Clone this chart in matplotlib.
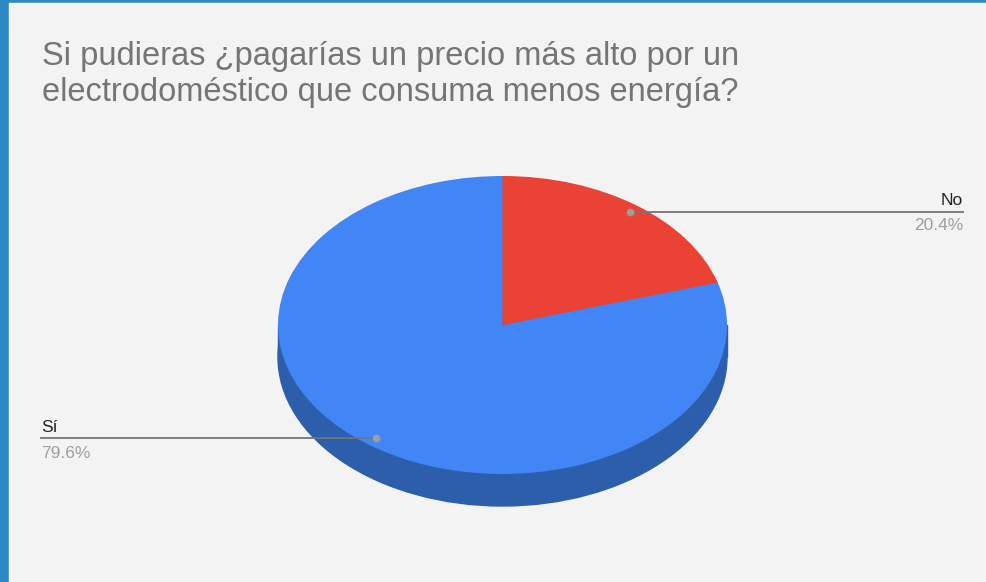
import matplotlib
matplotlib.use('Agg')
import matplotlib.pyplot as plt
from matplotlib.patches import Wedge, Rectangle, Ellipse
from matplotlib.transforms import Affine2D

# data
labels = ['No', 'Sí']
shares = [20.4, 79.6]
colors = ['#ea4335', '#4285f4']
side_colors = ['#b0322a', '#2d5eab']
title_lines = ['Si pudieras ¿pagarías un precio más alto por un',
               'electrodoméstico que consuma menos energía?']

plt.rcParams['font.family'] = ['Liberation Sans', 'DejaVu Sans']

W, H = 987, 582
fig = plt.figure(figsize=(W / 100, H / 100), dpi=100)
fig.patch.set_facecolor('#2f87c3')
ax = fig.add_axes([0, 0, 1, 1])
ax.set_xlim(0, W)
ax.set_ylim(H, 0)
ax.axis('off')

# card background with thin white rim
ax.add_patch(Rectangle((9, 3), W, H, color='white', zorder=0))
ax.add_patch(Rectangle((10, 4), W, H, color='#f3f3f3', zorder=0))

# pie geometry in pixels
cx, cy, rx, ry, depth = 502.5, 325, 224.5, 149, 32
top = Affine2D().scale(rx, -ry).translate(cx, cy) + ax.transData
bottom = Affine2D().scale(rx, -ry).translate(cx, cy + depth) + ax.transData

# side of the disc (front half only visible, all blue here)
ax.add_patch(Ellipse((0, 0), 2, 2, color=side_colors[1], transform=bottom, zorder=1))
ax.add_patch(Rectangle((cx - rx, cy), 2 * rx, depth, color=side_colors[1], zorder=1))

# top face: start at 12 o'clock, go clockwise
# later slices drawn first and slightly widened so no seam shows
start = 90.0
wedges = []
for lab, s, c in zip(labels, shares, colors):
    sweep = 360 * s / 100
    wedges.append((start - sweep, start, c))
    start -= sweep
for i, (t1, t2, c) in enumerate(reversed(wedges)):
    pad = 1.0 if i == 0 else 0.0
    w = Wedge((0, 0), 1, t1 - pad, t2 + pad, color=c, lw=0, zorder=2 + i)
    w.set_transform(top)
    ax.add_patch(w)

# leader lines and labels
ax.plot([630, 963], [211.5, 211.5], color='#757575', lw=1.3, zorder=5)
ax.plot([630], [211.5], 'o', color='#9e9e9e', ms=4.5, zorder=6)
ax.text(963, 205, labels[0], ha='right', va='baseline', fontsize=12.5, color='#222222')
ax.text(963, 230, f'{shares[0]}%', ha='right', va='baseline', fontsize=12.5, color='#9e9e9e')

ax.plot([41, 376], [438, 438], color='#757575', lw=1.3, zorder=5)
ax.plot([376], [438], 'o', color='#9e9e9e', ms=4.5, zorder=6)
ax.text(41, 432, labels[1], ha='left', va='baseline', fontsize=12.5, color='#222222')
ax.text(41, 458, f'{shares[1]}%', ha='left', va='baseline', fontsize=12.5, color='#9e9e9e')

for i, line in enumerate(title_lines):
    ax.text(42, 65 + 36 * i, line, ha='left', va='baseline', fontsize=23.5, color='#757575')

fig.savefig('out.png', dpi=100, facecolor=fig.get_facecolor())
